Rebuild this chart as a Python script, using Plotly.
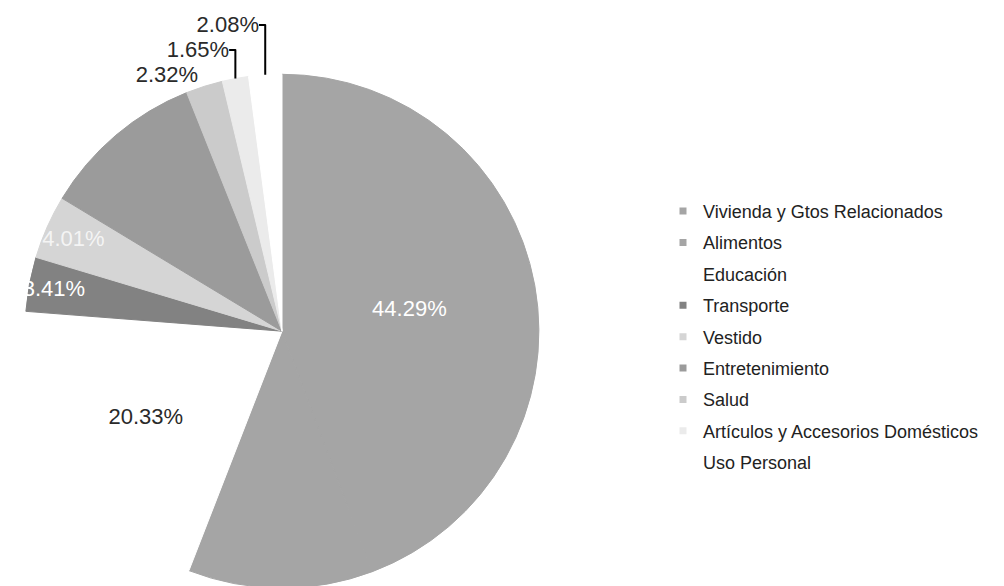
import plotly.graph_objects as go

labels = ["Vivienda y Gtos Relacionados", "Alimentos", "Educación", "Transporte",
          "Vestido", "Entretenimiento", "Salud",
          "Artículos y Accesorios Domésticos", "Uso Personal"]
values = [44.29, 11.61, 20.33, 3.41, 4.01, 10.30, 2.32, 1.65, 2.08]
colors = ["#a5a5a5", "#a5a5a5", "#ffffff", "#828282", "#d5d5d5",
          "#9b9b9b", "#cbcbcb", "#ebebeb", "#ffffff"]
show_label = [True, False, True, True, True, False, True, True, True]
text_pos = ["inside", "inside", "inside", "inside", "inside", "inside",
            "outside", "outside", "outside"]
text_colors = ["#ffffff", "#ffffff", "#2a2a2a", "#ffffff", "#f4f4f4",
               "#ffffff", "#2a2a2a", "#2a2a2a", "#2a2a2a"]

FONT = "Liberation Sans, Arial, sans-serif"

fig = go.Figure()
fig.add_trace(go.Pie(
    labels=labels, values=values, sort=False, direction="clockwise", rotation=0,
    marker=dict(colors=colors, line=dict(width=1, color=colors)),
    texttemplate=["%{percent:.2%}" if s else "" for s in show_label],
    textposition=text_pos,
    insidetextorientation="horizontal",
    textfont=dict(family=FONT, size=22, color=text_colors),
    showlegend=False, hoverinfo="label+percent",
    domain=dict(x=[14/1004, 534/1004], y=[6/586, 526/586]),
))

for lbl, col in zip(labels, colors):
    fig.add_trace(go.Scatter(
        x=[None], y=[None], mode="markers", name=lbl, legendgroup=lbl,
        marker=dict(symbol="square", size=7, color=col, line=dict(width=0)),
    ))

fig.update_layout(
    width=1004, height=586,
    margin=dict(l=0, r=0, t=0, b=0),
    paper_bgcolor="white", plot_bgcolor="white",
    xaxis=dict(visible=False), yaxis=dict(visible=False),
    uniformtext=dict(minsize=22, mode="show"),
    showlegend=True,
    legend=dict(x=655/1004, xanchor="left", y=1-180/586, yanchor="top",
                font=dict(family=FONT, size=18, color="#222222"),
                tracegroupgap=5, bgcolor="rgba(0,0,0,0)"),
)

fig.write_html("out.html")
